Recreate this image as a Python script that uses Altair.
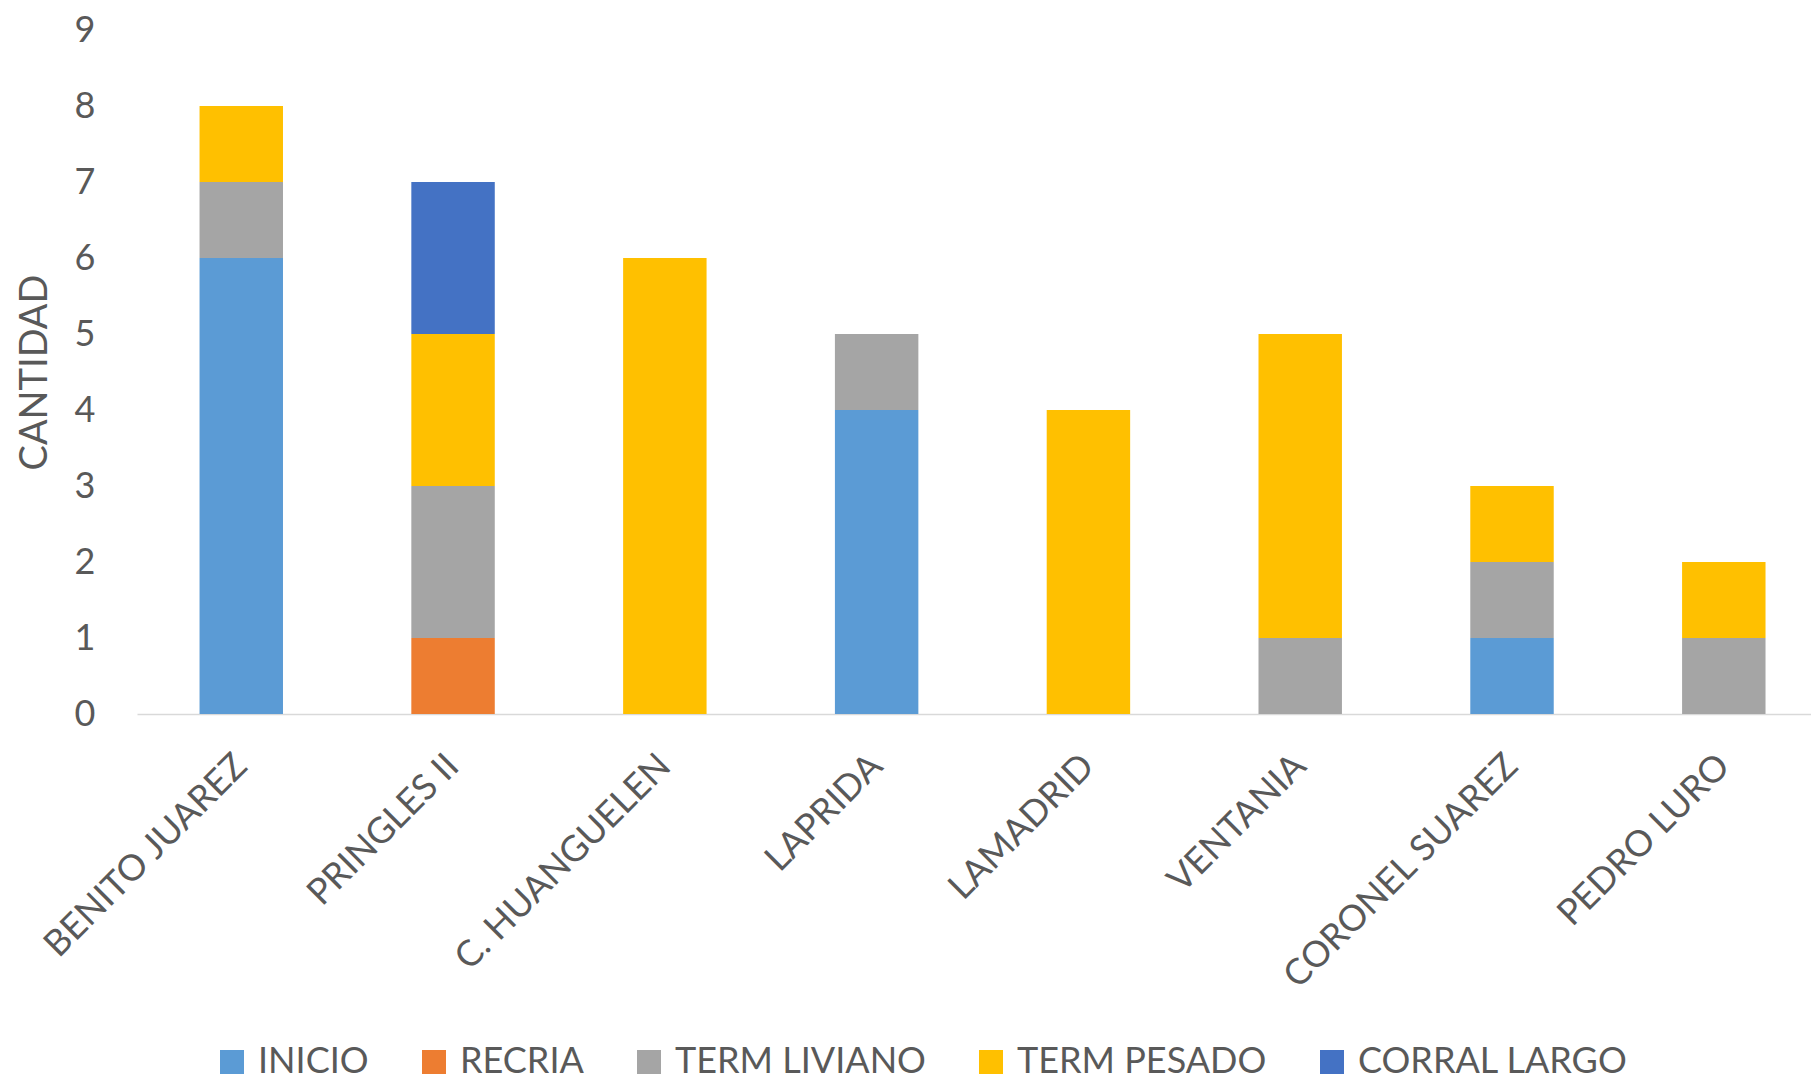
import altair as alt
import pandas as pd

localidades = ["BENITO JUAREZ", "PRINGLES II", "C. HUANGUELEN", "LAPRIDA",
               "LAMADRID", "VENTANIA", "CORONEL SUAREZ", "PEDRO LURO"]
series = ["INICIO", "RECRIA", "TERM LIVIANO", "TERM PESADO", "CORRAL LARGO"]
inicio = [6, 0, 0, 4, 0, 0, 1, 0]
recria = [0, 1, 0, 0, 0, 0, 0, 0]
term_liviano = [1, 2, 0, 1, 0, 1, 1, 1]
term_pesado = [1, 2, 6, 0, 4, 4, 1, 1]
corral_largo = [0, 2, 0, 0, 0, 0, 0, 0]
colores = ["#5B9BD5", "#ED7D31", "#A5A5A5", "#FFC000", "#4472C4"]
y_ticks = [0, 1, 2, 3, 4, 5, 6, 7, 8, 9]

valores = [inicio, recria, term_liviano, term_pesado, corral_largo]
rows = []
for si, (serie, vals) in enumerate(zip(series, valores)):
    for loc, v in zip(localidades, vals):
        if v > 0:
            rows.append({"localidad": loc, "serie": serie, "cantidad": v, "orden": si})
df = pd.DataFrame(rows)

FONT = "Lato"
GRAY = "#595959"

chart = alt.Chart(df).mark_bar().encode(
    x=alt.X(
        "localidad:N",
        sort=localidades,
        scale=alt.Scale(paddingInner=0.606, paddingOuter=0.255, align=0.579),
        axis=alt.Axis(
            title=None, labelAngle=-45, labelAlign="right", labelBaseline="middle",
            labelPadding=46, ticks=False, tickSize=0, domainColor="#D9D9D9",
            domainWidth=1.5, labelFontSize=36, labelColor=GRAY, labelFont=FONT,
            grid=False, labelOverlap=False, labelLimit=0,
        ),
    ),
    y=alt.Y(
        "cantidad:Q",
        stack="zero",
        scale=alt.Scale(domain=[0, 9], nice=False),
        axis=alt.Axis(
            values=y_ticks, title="CANTIDAD", titleAngle=-90, titleX=-102, titleY=342,
            titleAlign="center", titleBaseline="middle", titleFontSize=38,
            titleFontWeight="normal", titleColor=GRAY, titleFont=FONT,
            labelFontSize=36, labelColor=GRAY, labelFont=FONT, labelPadding=42,
            ticks=False, tickSize=0, domain=False, grid=False, labelFlush=False,
            labelOverlap=False,
        ),
    ),
    color=alt.Color(
        "serie:N",
        scale=alt.Scale(domain=series, range=colores),
        legend=alt.Legend(
            title=None, orient="none", legendX=77, legendY=1014,
            direction="horizontal", columns=5, symbolType="square",
            symbolSize=576, symbolStrokeWidth=0, labelFontSize=36,
            labelColor=GRAY, labelFont=FONT, labelOffset=8, columnPadding=47,
            labelLimit=0,
        ),
    ),
    order=alt.Order("orden:Q", sort="ascending"),
).properties(
    width=1674,
    height=684,
    padding={"left": 129, "top": 22, "right": 0, "bottom": 366},
    autosize=alt.AutoSizeParams(type="none"),
    background="white",
).configure_view(stroke=None)

chart.save("out.html", embed_options={"renderer": "svg", "actions": False})
